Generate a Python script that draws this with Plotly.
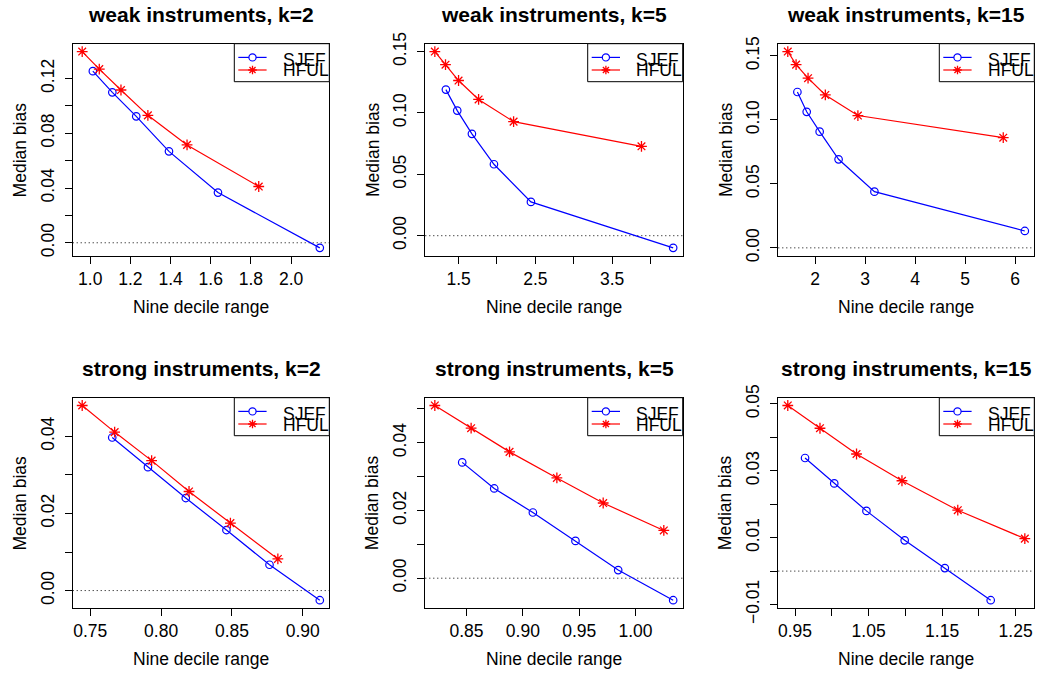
import plotly.graph_objects as go

# ---------------- data ----------------
titles = ["weak instruments, k=2", "weak instruments, k=5", "weak instruments, k=15",
          "strong instruments, k=2", "strong instruments, k=5", "strong instruments, k=15"]

series_names = ["SJEF", "HFUL"]

sjef_x = [
    [1.013, 1.110, 1.229, 1.392, 1.636, 2.143],
    [1.335, 1.483, 1.674, 1.961, 2.443, 4.296],
    [1.648, 1.834, 2.093, 2.471, 3.187, 6.192],
    [0.7655, 0.7907, 0.8174, 0.8461, 0.8765, 0.9120],
    [0.8462, 0.8746, 0.9089, 0.9467, 0.9846, 1.0334],
    [0.9636, 1.0033, 1.0471, 1.0991, 1.1537, 1.2161],
]
sjef_y = [
    [0.1254, 0.1099, 0.0924, 0.0668, 0.0367, -0.0037],
    [0.1190, 0.1019, 0.0830, 0.0582, 0.0275, -0.0099],
    [0.1218, 0.1063, 0.0908, 0.0692, 0.0439, 0.0132],
    [0.0397, 0.0320, 0.0240, 0.0157, 0.0067, -0.0025],
    [0.0342, 0.0265, 0.0194, 0.0110, 0.0024, -0.0065],
    [0.0338, 0.0262, 0.0180, 0.0092, 0.0009, -0.0087],
]
hful_x = [
    [0.960, 1.045, 1.153, 1.287, 1.482, 1.839],
    [1.191, 1.330, 1.500, 1.761, 2.217, 3.883],
    [1.456, 1.622, 1.861, 2.206, 2.857, 5.761],
    [0.7443, 0.7672, 0.7933, 0.8197, 0.8489, 0.8824],
    [0.8219, 0.8541, 0.8882, 0.9302, 0.9713, 1.0251],
    [0.9401, 0.9839, 1.0336, 1.0954, 1.1713, 1.2625],
]
hful_y = [
    [0.1397, 0.1269, 0.1116, 0.0931, 0.0715, 0.0411],
    [0.1500, 0.1393, 0.1264, 0.1110, 0.0929, 0.0728],
    [0.1534, 0.1432, 0.1326, 0.1195, 0.1034, 0.0861],
    [0.0480, 0.0411, 0.0337, 0.0257, 0.0175, 0.0082],
    [0.0510, 0.0443, 0.0373, 0.0296, 0.0222, 0.0141],
    [0.0495, 0.0427, 0.0350, 0.0270, 0.0182, 0.0097],
]

x_tickvals = [
    [1.0, 1.2, 1.4, 1.6, 1.8, 2.0],
    [1.5, 2.0, 2.5, 3.0, 3.5, 4.0],
    [2, 3, 4, 5, 6],
    [0.75, 0.80, 0.85, 0.90],
    [0.85, 0.90, 0.95, 1.00],
    [0.95, 1.00, 1.05, 1.10, 1.15, 1.20, 1.25],
]
x_ticktext = [
    ["1.0", "1.2", "1.4", "1.6", "1.8", "2.0"],
    ["1.5", "", "2.5", "", "3.5", ""],
    ["2", "3", "4", "5", "6"],
    ["0.75", "0.80", "0.85", "0.90"],
    ["0.85", "0.90", "0.95", "1.00"],
    ["0.95", "", "1.05", "", "1.15", "", "1.25"],
]
y_tickvals = [
    [0.00, 0.02, 0.04, 0.06, 0.08, 0.10, 0.12],
    [0.00, 0.05, 0.10, 0.15],
    [0.00, 0.05, 0.10, 0.15],
    [0.00, 0.01, 0.02, 0.03, 0.04],
    [0.00, 0.01, 0.02, 0.03, 0.04, 0.05],
    [-0.01, 0.00, 0.01, 0.02, 0.03, 0.04, 0.05],
]
y_ticktext = [
    ["0.00", "", "0.04", "", "0.08", "", "0.12"],
    ["0.00", "0.05", "0.10", "0.15"],
    ["0.00", "0.05", "0.10", "0.15"],
    ["0.00", "", "0.02", "", "0.04"],
    ["0.00", "", "0.02", "", "0.04", ""],
    ["\u22120.01", "", "0.01", "", "0.03", "", "0.05"],
]

x_label = "Nine decile range"
y_label = "Median bias"

# ---------------- layout geometry ----------------
W, H = 1041, 676
col_px = [(72.7, 329.3), (425.3, 682.7), (778.3, 1034.3)]
row_px = [(43.7, 255.7), (397.7, 608.0)]

BLUE = "#0000FF"
RED = "#FF0000"
FONT = "Liberation Sans, Arial, Helvetica, sans-serif"
FS = 17.5

fig = go.Figure()
layout = dict(
    width=W, height=H, margin=dict(l=0, r=0, t=0, b=0, pad=0, autoexpand=False),
    paper_bgcolor="white", plot_bgcolor="white",
    showlegend=False, font=dict(family=FONT, size=FS, color="black"),
)
shapes = []
annotations = []


def rng(vals):
    lo, hi = min(vals), max(vals)
    r = hi - lo
    return [lo - 0.04 * r, hi + 0.04 * r]


for i in range(6):
    row, col = divmod(i, 3)
    n = i + 1
    xa = "x" if n == 1 else f"x{n}"
    ya = "y" if n == 1 else f"y{n}"
    xkey = "xaxis" if n == 1 else f"xaxis{n}"
    ykey = "yaxis" if n == 1 else f"yaxis{n}"
    x0p, x1p = col_px[col]
    y0p, y1p = row_px[row]

    layout[xkey] = dict(
        domain=[x0p / W, x1p / W], anchor=ya, range=rng(sjef_x[i] + hful_x[i]),
        showline=True, mirror=True, linecolor="black", linewidth=1,
        ticks="outside", ticklen=7, tickcolor="black", tickwidth=1,
        tickvals=x_tickvals[i], ticktext=x_ticktext[i], automargin=False,
        showgrid=False, zeroline=False, tickfont=dict(size=FS, family=FONT, color="black"),
        ticklabelstandoff=0,
    )
    layout[ykey] = dict(
        domain=[1 - y1p / H, 1 - y0p / H], anchor=xa, range=rng(sjef_y[i] + hful_y[i] + [0.0]),
        showline=True, mirror=True, linecolor="black", linewidth=1,
        ticks="outside", ticklen=7, tickcolor="black", tickwidth=1,
        tickvals=y_tickvals[i], ticktext=y_ticktext[i], tickangle=-90, automargin=False,
        showgrid=False, zeroline=False, tickfont=dict(size=FS, family=FONT, color="black"),
        ticklabelstandoff=4,
    )

    # dotted reference line at zero
    shapes.append(dict(type="line", xref=f"{xa} domain", yref=ya, x0=0, x1=1, y0=0, y1=0,
                       line=dict(color="black", width=1, dash="1px,3px"), layer="below"))

    fig.add_trace(go.Scatter(x=sjef_x[i], y=sjef_y[i], xaxis=xa, yaxis=ya, mode="lines+markers",
                             name=series_names[0], line=dict(color=BLUE, width=1.2),
                             marker=dict(symbol="circle-open", size=7.5, color=BLUE,
                                         line=dict(width=1.2, color=BLUE))))
    fig.add_trace(go.Scatter(x=hful_x[i], y=hful_y[i], xaxis=xa, yaxis=ya, mode="lines+markers",
                             name=series_names[1], line=dict(color=RED, width=1.2),
                             marker=dict(symbol="asterisk-open", size=9, color=RED,
                                         line=dict(width=1.3, color=RED))))

    # title
    annotations.append(dict(text=f"<b>{titles[i]}</b>", xref=f"{xa} domain", yref=f"{ya} domain",
                            x=0.5, y=1, yshift=29, xanchor="center", yanchor="middle",
                            showarrow=False, font=dict(size=21, family=FONT, color="black")))
    # axis labels
    annotations.append(dict(text=x_label, xref=f"{xa} domain", yref=f"{ya} domain",
                            x=0.5, y=0, yshift=-51, xanchor="center", yanchor="middle",
                            showarrow=False, font=dict(size=FS, family=FONT, color="black")))
    annotations.append(dict(text=y_label, xref=f"{xa} domain", yref=f"{ya} domain",
                            x=0, y=0.5, xshift=-53, xanchor="center", yanchor="middle",
                            textangle=-90, showarrow=False,
                            font=dict(size=FS, family=FONT, color="black")))

    # legend box (top-right inside the plot)
    LW, LH = 95, 38
    common = dict(xref=f"{xa} domain", yref=f"{ya} domain", xsizemode="pixel", ysizemode="pixel",
                  xanchor=1, yanchor=1)
    shapes.append(dict(type="rect", x0=-LW, x1=0, y0=-LH, y1=0,
                       line=dict(color="black", width=1), fillcolor="white", layer="above", **common))
    line_y = [-13.7, -26.3]
    colors = [BLUE, RED]
    for j in range(2):
        shapes.append(dict(type="line", x0=-LW + 4, x1=-LW + 32.3, y0=line_y[j], y1=line_y[j],
                           line=dict(color=colors[j], width=1.2), layer="above", **common))
    cx = -LW + 18.2
    shapes.append(dict(type="circle", x0=cx - 3.6, x1=cx + 3.6, y0=line_y[0] - 3.6, y1=line_y[0] + 3.6,
                       line=dict(color=BLUE, width=1.2), fillcolor="white", layer="above", **common))
    cy = line_y[1]
    r = 4.3
    d = r * 0.7071
    path = (f"M{cx - r},{cy} L{cx + r},{cy} M{cx},{cy - r} L{cx},{cy + r} "
            f"M{cx - d},{cy - d} L{cx + d},{cy + d} M{cx - d},{cy + d} L{cx + d},{cy - d}")
    shapes.append(dict(type="path", path=path, line=dict(color=RED, width=1.3), layer="above", **common))
    text_y = [-16.5, -26.8]
    for j in range(2):
        annotations.append(dict(text=series_names[j], xref=f"{xa} domain", yref=f"{ya} domain",
                                x=1, y=1, xshift=-LW + 46.5, yshift=text_y[j],
                                xanchor="left", yanchor="middle", showarrow=False,
                                font=dict(size=FS, family=FONT, color="black")))

layout["shapes"] = shapes
layout["annotations"] = annotations
fig.update_layout(**layout)
fig.write_html("out.html", config={"displayModeBar": False},
               post_script="document.body.style.margin='0px';document.body.style.overflow='hidden';")
